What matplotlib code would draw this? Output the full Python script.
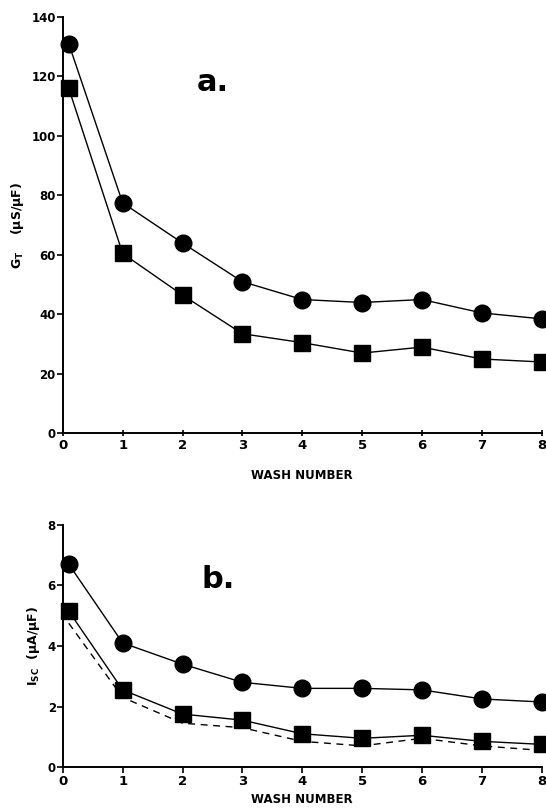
import matplotlib.pyplot as plt
import numpy as np

# Wash number positions (first point sits slightly right of zero)
wash = [0.1, 1, 2, 3, 4, 5, 6, 7, 8]

# Panel a: total conductance G_T (uS/uF)
gt_circle = [131, 77.5, 64, 51, 45, 44, 45, 40.5, 38.5]
gt_square = [116, 60.5, 46.5, 33.5, 30.5, 27, 29, 25, 24]

# Panel b: short-circuit current I_SC (uA/uF)
isc_circle = [6.7, 4.1, 3.4, 2.8, 2.6, 2.6, 2.55, 2.25, 2.15]
isc_square = [5.15, 2.55, 1.75, 1.55, 1.1, 0.95, 1.05, 0.85, 0.75]
isc_dashed = [4.75, 2.3, 1.45, 1.3, 0.85, 0.7, 0.95, 0.7, 0.55]

plt.rcParams['font.family'] = 'DejaVu Sans'
plt.rcParams['font.weight'] = 'bold'

fig = plt.figure(figsize=(5.46, 8.10), dpi=100)
ax1 = fig.add_axes([0.115, 0.465, 0.877, 0.514])
ax2 = fig.add_axes([0.115, 0.053, 0.877, 0.299])


def style(ax, yticks, ylabel, xpad, xdir):
    ax.set_xlim(0, 8)
    ax.set_xticks(range(9))
    ax.set_yticks(yticks)
    ax.set_ylim(yticks[0], yticks[-1])
    for s in ['top', 'right']:
        ax.spines[s].set_visible(False)
    for s in ['left', 'bottom']:
        ax.spines[s].set_linewidth(1.4)
    ax.tick_params(axis='y', direction='out', length=4, width=1.2, labelsize=8.5, pad=1)
    ax.tick_params(axis='x', direction=xdir, length=4, width=1.2, labelsize=9.5, pad=2)
    ax.set_xlabel('WASH NUMBER', fontsize=8.5, fontweight='bold', labelpad=xpad)
    ax.set_ylabel(ylabel, fontsize=9, fontweight='bold', labelpad=4)
    for lab in ax.get_xticklabels() + ax.get_yticklabels():
        lab.set_fontweight('bold')


ax1.plot(wash, gt_circle, 'k-', lw=1.0, marker='o', ms=12, clip_on=False)
ax1.plot(wash, gt_square, 'k-', lw=1.0, marker='s', ms=11, clip_on=False)
style(ax1, [0, 20, 40, 60, 80, 100, 120, 140],
      r'G$_\mathbf{T}$    ($\mathbf{\mu}$S/$\mathbf{\mu}$F)', 12, 'inout')
ax1.text(2.5, 118, 'a.', fontsize=22, fontweight='bold', ha='center', va='center')

ax2.plot(wash, isc_dashed, 'k--', lw=1.0, dashes=(5, 4), clip_on=False)
ax2.plot(wash, isc_circle, 'k-', lw=1.0, marker='o', ms=12, clip_on=False)
ax2.plot(wash, isc_square, 'k-', lw=1.0, marker='s', ms=11, clip_on=False)
style(ax2, [0, 2, 4, 6, 8],
      r'I$_\mathbf{SC}$  ($\mathbf{\mu}$A/$\mathbf{\mu}$F)', 3, 'out')
ax2.text(2.6, 6.2, 'b.', fontsize=22, fontweight='bold', ha='center', va='center')

fig.savefig('out.png', dpi=100)
